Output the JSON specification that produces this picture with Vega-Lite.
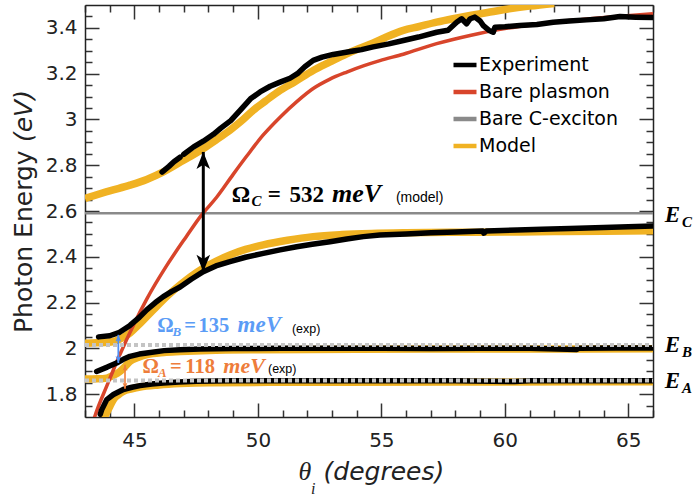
{
  "$schema": "https://vega.github.io/schema/vega-lite/v6.json",
  "width": 568,
  "height": 412,
  "autosize": {"type": "none"},
  "padding": {"left": 85, "top": 5, "right": 40, "bottom": 82},
  "background": "#ffffff",
  "config": {"view": {"stroke": null}, "font": "DejaVu Sans"},
  "datasets": {
    "curves": [
      {"series": "Bare C-exciton", "branch": "EC", "theta": 43, "energy": 2.59},
      {"series": "Bare C-exciton", "branch": "EC", "theta": 66, "energy": 2.59},

      {"series": "Model", "branch": "M1", "theta": 43.0, "energy": 2.655},
      {"series": "Model", "branch": "M1", "theta": 44.0, "energy": 2.688},
      {"series": "Model", "branch": "M1", "theta": 44.82, "energy": 2.713},
      {"series": "Model", "branch": "M1", "theta": 45.5, "energy": 2.738},
      {"series": "Model", "branch": "M1", "theta": 46.17, "energy": 2.771},
      {"series": "Model", "branch": "M1", "theta": 46.8, "energy": 2.81},
      {"series": "Model", "branch": "M1", "theta": 47.3, "energy": 2.84},
      {"series": "Model", "branch": "M1", "theta": 47.79, "energy": 2.873},
      {"series": "Model", "branch": "M1", "theta": 48.3, "energy": 2.91},
      {"series": "Model", "branch": "M1", "theta": 48.87, "energy": 2.953},
      {"series": "Model", "branch": "M1", "theta": 49.3, "energy": 2.99},
      {"series": "Model", "branch": "M1", "theta": 49.81, "energy": 3.04},
      {"series": "Model", "branch": "M1", "theta": 50.3, "energy": 3.08},
      {"series": "Model", "branch": "M1", "theta": 50.9, "energy": 3.127},
      {"series": "Model", "branch": "M1", "theta": 51.5, "energy": 3.165},
      {"series": "Model", "branch": "M1", "theta": 52.24, "energy": 3.214},
      {"series": "Model", "branch": "M1", "theta": 52.9, "energy": 3.25},
      {"series": "Model", "branch": "M1", "theta": 53.6, "energy": 3.287},
      {"series": "Model", "branch": "M1", "theta": 54.1, "energy": 3.31},
      {"series": "Model", "branch": "M1", "theta": 54.67, "energy": 3.334},
      {"series": "Model", "branch": "M1", "theta": 55.2, "energy": 3.36},
      {"series": "Model", "branch": "M1", "theta": 55.89, "energy": 3.389},
      {"series": "Model", "branch": "M1", "theta": 56.5, "energy": 3.405},
      {"series": "Model", "branch": "M1", "theta": 57.24, "energy": 3.425},
      {"series": "Model", "branch": "M1", "theta": 57.9, "energy": 3.44},
      {"series": "Model", "branch": "M1", "theta": 58.59, "energy": 3.454},
      {"series": "Model", "branch": "M1", "theta": 59.3, "energy": 3.467},
      {"series": "Model", "branch": "M1", "theta": 59.94, "energy": 3.479},
      {"series": "Model", "branch": "M1", "theta": 61.0, "energy": 3.495},
      {"series": "Model", "branch": "M1", "theta": 62.0, "energy": 3.507},

      {"series": "Model", "branch": "M2", "theta": 43.0, "energy": 2.022},
      {"series": "Model", "branch": "M2", "theta": 43.5, "energy": 2.024},
      {"series": "Model", "branch": "M2", "theta": 44.15, "energy": 2.03},
      {"series": "Model", "branch": "M2", "theta": 44.5, "energy": 2.045},
      {"series": "Model", "branch": "M2", "theta": 44.82, "energy": 2.067},
      {"series": "Model", "branch": "M2", "theta": 45.15, "energy": 2.1},
      {"series": "Model", "branch": "M2", "theta": 45.5, "energy": 2.139},
      {"series": "Model", "branch": "M2", "theta": 45.85, "energy": 2.177},
      {"series": "Model", "branch": "M2", "theta": 46.17, "energy": 2.212},
      {"series": "Model", "branch": "M2", "theta": 46.5, "energy": 2.245},
      {"series": "Model", "branch": "M2", "theta": 46.85, "energy": 2.277},
      {"series": "Model", "branch": "M2", "theta": 47.3, "energy": 2.315},
      {"series": "Model", "branch": "M2", "theta": 47.79, "energy": 2.35},
      {"series": "Model", "branch": "M2", "theta": 48.3, "energy": 2.38},
      {"series": "Model", "branch": "M2", "theta": 48.87, "energy": 2.408},
      {"series": "Model", "branch": "M2", "theta": 49.5, "energy": 2.432},
      {"series": "Model", "branch": "M2", "theta": 50.22, "energy": 2.452},
      {"series": "Model", "branch": "M2", "theta": 51.2, "energy": 2.472},
      {"series": "Model", "branch": "M2", "theta": 52.24, "energy": 2.488},
      {"series": "Model", "branch": "M2", "theta": 53.4, "energy": 2.497},
      {"series": "Model", "branch": "M2", "theta": 54.6, "energy": 2.502},
      {"series": "Model", "branch": "M2", "theta": 56.0, "energy": 2.505},
      {"series": "Model", "branch": "M2", "theta": 58.0, "energy": 2.507},
      {"series": "Model", "branch": "M2", "theta": 60.0, "energy": 2.508},
      {"series": "Model", "branch": "M2", "theta": 62.0, "energy": 2.51},
      {"series": "Model", "branch": "M2", "theta": 64.0, "energy": 2.512},
      {"series": "Model", "branch": "M2", "theta": 66.0, "energy": 2.514},

      {"series": "Model", "branch": "M3", "theta": 43.0, "energy": 1.866},
      {"series": "Model", "branch": "M3", "theta": 43.5, "energy": 1.867},
      {"series": "Model", "branch": "M3", "theta": 43.88, "energy": 1.87},
      {"series": "Model", "branch": "M3", "theta": 44.15, "energy": 1.882},
      {"series": "Model", "branch": "M3", "theta": 44.42, "energy": 1.899},
      {"series": "Model", "branch": "M3", "theta": 44.62, "energy": 1.92},
      {"series": "Model", "branch": "M3", "theta": 44.82, "energy": 1.943},
      {"series": "Model", "branch": "M3", "theta": 45.15, "energy": 1.96},
      {"series": "Model", "branch": "M3", "theta": 45.5, "energy": 1.972},
      {"series": "Model", "branch": "M3", "theta": 46.2, "energy": 1.982},
      {"series": "Model", "branch": "M3", "theta": 46.85, "energy": 1.986},
      {"series": "Model", "branch": "M3", "theta": 48.0, "energy": 1.991},
      {"series": "Model", "branch": "M3", "theta": 50.0, "energy": 1.994},
      {"series": "Model", "branch": "M3", "theta": 54.0, "energy": 1.996},
      {"series": "Model", "branch": "M3", "theta": 60.0, "energy": 1.997},
      {"series": "Model", "branch": "M3", "theta": 66.0, "energy": 1.998},

      {"series": "Model", "branch": "M4", "theta": 43.7, "energy": 1.67},
      {"series": "Model", "branch": "M4", "theta": 43.81, "energy": 1.703},
      {"series": "Model", "branch": "M4", "theta": 44.0, "energy": 1.745},
      {"series": "Model", "branch": "M4", "theta": 44.15, "energy": 1.776},
      {"series": "Model", "branch": "M4", "theta": 44.35, "energy": 1.797},
      {"series": "Model", "branch": "M4", "theta": 44.55, "energy": 1.812},
      {"series": "Model", "branch": "M4", "theta": 44.9, "energy": 1.823},
      {"series": "Model", "branch": "M4", "theta": 45.23, "energy": 1.831},
      {"series": "Model", "branch": "M4", "theta": 46.0, "energy": 1.84},
      {"series": "Model", "branch": "M4", "theta": 46.85, "energy": 1.846},
      {"series": "Model", "branch": "M4", "theta": 48.0, "energy": 1.85},
      {"series": "Model", "branch": "M4", "theta": 52.0, "energy": 1.852},
      {"series": "Model", "branch": "M4", "theta": 58.0, "energy": 1.853},
      {"series": "Model", "branch": "M4", "theta": 66.0, "energy": 1.854},

      {"series": "Bare plasmon", "branch": "P", "theta": 43.25, "energy": 1.65},
      {"series": "Bare plasmon", "branch": "P", "theta": 43.4, "energy": 1.703},
      {"series": "Bare plasmon", "branch": "P", "theta": 43.9, "energy": 1.84},
      {"series": "Bare plasmon", "branch": "P", "theta": 44.4, "energy": 1.97},
      {"series": "Bare plasmon", "branch": "P", "theta": 45.0, "energy": 2.11},
      {"series": "Bare plasmon", "branch": "P", "theta": 45.5, "energy": 2.215},
      {"series": "Bare plasmon", "branch": "P", "theta": 46.3, "energy": 2.36},
      {"series": "Bare plasmon", "branch": "P", "theta": 47.1, "energy": 2.488},
      {"series": "Bare plasmon", "branch": "P", "theta": 47.7, "energy": 2.58},
      {"series": "Bare plasmon", "branch": "P", "theta": 48.33, "energy": 2.66},
      {"series": "Bare plasmon", "branch": "P", "theta": 49.0, "energy": 2.76},
      {"series": "Bare plasmon", "branch": "P", "theta": 49.55, "energy": 2.84},
      {"series": "Bare plasmon", "branch": "P", "theta": 50.2, "energy": 2.93},
      {"series": "Bare plasmon", "branch": "P", "theta": 50.9, "energy": 3.01},
      {"series": "Bare plasmon", "branch": "P", "theta": 51.6, "energy": 3.08},
      {"series": "Bare plasmon", "branch": "P", "theta": 52.24, "energy": 3.135},
      {"series": "Bare plasmon", "branch": "P", "theta": 52.9, "energy": 3.175},
      {"series": "Bare plasmon", "branch": "P", "theta": 53.6, "energy": 3.207},
      {"series": "Bare plasmon", "branch": "P", "theta": 54.3, "energy": 3.235},
      {"series": "Bare plasmon", "branch": "P", "theta": 54.94, "energy": 3.257},
      {"series": "Bare plasmon", "branch": "P", "theta": 55.89, "energy": 3.285},
      {"series": "Bare plasmon", "branch": "P", "theta": 57.24, "energy": 3.331},
      {"series": "Bare plasmon", "branch": "P", "theta": 58.59, "energy": 3.367},
      {"series": "Bare plasmon", "branch": "P", "theta": 59.94, "energy": 3.396},
      {"series": "Bare plasmon", "branch": "P", "theta": 61.3, "energy": 3.416},
      {"series": "Bare plasmon", "branch": "P", "theta": 62.64, "energy": 3.432},
      {"series": "Bare plasmon", "branch": "P", "theta": 64.3, "energy": 3.448},
      {"series": "Bare plasmon", "branch": "P", "theta": 66.0, "energy": 3.462},

      {"series": "Experiment", "branch": "X1a", "theta": 46.12, "energy": 2.77},
      {"series": "Experiment", "branch": "X1a", "theta": 46.4, "energy": 2.795},
      {"series": "Experiment", "branch": "X1a", "theta": 46.6, "energy": 2.815},
      {"series": "Experiment", "branch": "X1a", "theta": 46.85, "energy": 2.835},
      {"series": "Experiment", "branch": "X1b", "theta": 47.0, "energy": 2.848},
      {"series": "Experiment", "branch": "X1b", "theta": 47.4, "energy": 2.88},
      {"series": "Experiment", "branch": "X1b", "theta": 47.79, "energy": 2.905},
      {"series": "Experiment", "branch": "X1b", "theta": 48.2, "energy": 2.935},
      {"series": "Experiment", "branch": "X1b", "theta": 48.5, "energy": 2.962},
      {"series": "Experiment", "branch": "X1b", "theta": 48.9, "energy": 2.995},
      {"series": "Experiment", "branch": "X1b", "theta": 49.28, "energy": 3.04},
      {"series": "Experiment", "branch": "X1b", "theta": 49.7, "energy": 3.09},
      {"series": "Experiment", "branch": "X1b", "theta": 50.09, "energy": 3.12},
      {"series": "Experiment", "branch": "X1b", "theta": 50.5, "energy": 3.145},
      {"series": "Experiment", "branch": "X1b", "theta": 50.9, "energy": 3.163},
      {"series": "Experiment", "branch": "X1b", "theta": 51.3, "energy": 3.18},
      {"series": "Experiment", "branch": "X1b", "theta": 51.6, "energy": 3.2},
      {"series": "Experiment", "branch": "X1b", "theta": 51.9, "energy": 3.23},
      {"series": "Experiment", "branch": "X1b", "theta": 52.24, "energy": 3.258},
      {"series": "Experiment", "branch": "X1b", "theta": 52.6, "energy": 3.272},
      {"series": "Experiment", "branch": "X1b", "theta": 53.05, "energy": 3.284},
      {"series": "Experiment", "branch": "X1b", "theta": 53.4, "energy": 3.29},
      {"series": "Experiment", "branch": "X1b", "theta": 53.86, "energy": 3.299},
      {"series": "Experiment", "branch": "X1b", "theta": 54.2, "energy": 3.305},
      {"series": "Experiment", "branch": "X1b", "theta": 54.67, "energy": 3.317},
      {"series": "Experiment", "branch": "X1b", "theta": 55.3, "energy": 3.33},
      {"series": "Experiment", "branch": "X1b", "theta": 55.89, "energy": 3.345},
      {"series": "Experiment", "branch": "X1b", "theta": 56.5, "energy": 3.36},
      {"series": "Experiment", "branch": "X1b", "theta": 57.24, "energy": 3.381},
      {"series": "Experiment", "branch": "X1b", "theta": 57.7, "energy": 3.39},
      {"series": "Experiment", "branch": "X1b", "theta": 58.05, "energy": 3.425},
      {"series": "Experiment", "branch": "X1b", "theta": 58.25, "energy": 3.44},
      {"series": "Experiment", "branch": "X1b", "theta": 58.45, "energy": 3.418},
      {"series": "Experiment", "branch": "X1b", "theta": 58.6, "energy": 3.44},
      {"series": "Experiment", "branch": "X1b", "theta": 58.79, "energy": 3.447},
      {"series": "Experiment", "branch": "X1b", "theta": 59.0, "energy": 3.43},
      {"series": "Experiment", "branch": "X1b", "theta": 59.13, "energy": 3.41},
      {"series": "Experiment", "branch": "X1b", "theta": 59.35, "energy": 3.39},
      {"series": "Experiment", "branch": "X1b", "theta": 59.53, "energy": 3.381},
      {"series": "Experiment", "branch": "X1b", "theta": 59.6, "energy": 3.403},
      {"series": "Experiment", "branch": "X1b", "theta": 60.0, "energy": 3.405},
      {"series": "Experiment", "branch": "X1b", "theta": 60.61, "energy": 3.41},
      {"series": "Experiment", "branch": "X1b", "theta": 61.3, "energy": 3.415},
      {"series": "Experiment", "branch": "X1b", "theta": 61.96, "energy": 3.425},
      {"series": "Experiment", "branch": "X1b", "theta": 62.6, "energy": 3.43},
      {"series": "Experiment", "branch": "X1b", "theta": 63.31, "energy": 3.435},
      {"series": "Experiment", "branch": "X1b", "theta": 64.0, "energy": 3.44},
      {"series": "Experiment", "branch": "X1b", "theta": 64.66, "energy": 3.45},
      {"series": "Experiment", "branch": "X1b", "theta": 65.3, "energy": 3.447},
      {"series": "Experiment", "branch": "X1b", "theta": 66.0, "energy": 3.445},

      {"series": "Experiment", "branch": "X2", "theta": 43.55, "energy": 2.05},
      {"series": "Experiment", "branch": "X2", "theta": 44.0, "energy": 2.055},
      {"series": "Experiment", "branch": "X2", "theta": 44.4, "energy": 2.07},
      {"series": "Experiment", "branch": "X2", "theta": 44.82, "energy": 2.1},
      {"series": "Experiment", "branch": "X2", "theta": 45.2, "energy": 2.135},
      {"series": "Experiment", "branch": "X2", "theta": 45.5, "energy": 2.168},
      {"series": "Experiment", "branch": "X2", "theta": 45.85, "energy": 2.2},
      {"series": "Experiment", "branch": "X2", "theta": 46.17, "energy": 2.226},
      {"series": "Experiment", "branch": "X2", "theta": 46.5, "energy": 2.248},
      {"series": "Experiment", "branch": "X2", "theta": 46.85, "energy": 2.268},
      {"series": "Experiment", "branch": "X2", "theta": 47.3, "energy": 2.302},
      {"series": "Experiment", "branch": "X2", "theta": 47.79, "energy": 2.335},
      {"series": "Experiment", "branch": "X2", "theta": 48.3, "energy": 2.36},
      {"series": "Experiment", "branch": "X2", "theta": 48.87, "energy": 2.379},
      {"series": "Experiment", "branch": "X2", "theta": 49.5, "energy": 2.398},
      {"series": "Experiment", "branch": "X2", "theta": 50.22, "energy": 2.415},
      {"series": "Experiment", "branch": "X2", "theta": 50.9, "energy": 2.43},
      {"series": "Experiment", "branch": "X2", "theta": 51.57, "energy": 2.444},
      {"series": "Experiment", "branch": "X2", "theta": 52.2, "energy": 2.455},
      {"series": "Experiment", "branch": "X2", "theta": 52.92, "energy": 2.466},
      {"series": "Experiment", "branch": "X2", "theta": 53.6, "energy": 2.478},
      {"series": "Experiment", "branch": "X2", "theta": 54.27, "energy": 2.488},
      {"series": "Experiment", "branch": "X2", "theta": 54.94, "energy": 2.495},
      {"series": "Experiment", "branch": "X2", "theta": 56.0, "energy": 2.5},
      {"series": "Experiment", "branch": "X2", "theta": 57.0, "energy": 2.505},
      {"series": "Experiment", "branch": "X2", "theta": 58.0, "energy": 2.508},
      {"series": "Experiment", "branch": "X2", "theta": 59.1, "energy": 2.513},
      {"series": "Experiment", "branch": "X2", "theta": 59.15, "energy": 2.503},
      {"series": "Experiment", "branch": "X2", "theta": 59.25, "energy": 2.513},
      {"series": "Experiment", "branch": "X2", "theta": 60.5, "energy": 2.517},
      {"series": "Experiment", "branch": "X2", "theta": 61.5, "energy": 2.52},
      {"series": "Experiment", "branch": "X2", "theta": 62.64, "energy": 2.524},
      {"series": "Experiment", "branch": "X2", "theta": 64.0, "energy": 2.528},
      {"series": "Experiment", "branch": "X2", "theta": 65.0, "energy": 2.531},
      {"series": "Experiment", "branch": "X2", "theta": 66.0, "energy": 2.534},

      {"series": "Experiment", "branch": "X3", "theta": 43.47, "energy": 1.899},
      {"series": "Experiment", "branch": "X3", "theta": 43.9, "energy": 1.918},
      {"series": "Experiment", "branch": "X3", "theta": 44.28, "energy": 1.936},
      {"series": "Experiment", "branch": "X3", "theta": 44.55, "energy": 1.952},
      {"series": "Experiment", "branch": "X3", "theta": 44.82, "energy": 1.965},
      {"series": "Experiment", "branch": "X3", "theta": 45.2, "energy": 1.975},
      {"series": "Experiment", "branch": "X3", "theta": 45.5, "energy": 1.98},
      {"series": "Experiment", "branch": "X3", "theta": 46.2, "energy": 1.99},
      {"series": "Experiment", "branch": "X3", "theta": 46.85, "energy": 1.994},
      {"series": "Experiment", "branch": "X3", "theta": 47.66, "energy": 1.997},
      {"series": "Experiment", "branch": "X3", "theta": 49.0, "energy": 1.999},
      {"series": "Experiment", "branch": "X3", "theta": 51.0, "energy": 2.0},
      {"series": "Experiment", "branch": "X3", "theta": 53.0, "energy": 2.0},
      {"series": "Experiment", "branch": "X3", "theta": 55.0, "energy": 2.0},
      {"series": "Experiment", "branch": "X3", "theta": 57.0, "energy": 1.999},
      {"series": "Experiment", "branch": "X3", "theta": 59.0, "energy": 2.0},
      {"series": "Experiment", "branch": "X3", "theta": 61.0, "energy": 2.0},
      {"series": "Experiment", "branch": "X3", "theta": 62.9, "energy": 1.995},
      {"series": "Experiment", "branch": "X3", "theta": 63.0, "energy": 2.0},
      {"series": "Experiment", "branch": "X3", "theta": 64.5, "energy": 2.001},
      {"series": "Experiment", "branch": "X3", "theta": 66.0, "energy": 2.002},

      {"series": "Experiment", "branch": "X4", "theta": 43.62, "energy": 1.712},
      {"series": "Experiment", "branch": "X4", "theta": 43.67, "energy": 1.73},
      {"series": "Experiment", "branch": "X4", "theta": 43.88, "energy": 1.776},
      {"series": "Experiment", "branch": "X4", "theta": 44.15, "energy": 1.798},
      {"series": "Experiment", "branch": "X4", "theta": 44.55, "energy": 1.82},
      {"series": "Experiment", "branch": "X4", "theta": 44.9, "energy": 1.83},
      {"series": "Experiment", "branch": "X4", "theta": 45.23, "energy": 1.837},
      {"series": "Experiment", "branch": "X4", "theta": 45.7, "energy": 1.844},
      {"series": "Experiment", "branch": "X4", "theta": 46.17, "energy": 1.849},
      {"series": "Experiment", "branch": "X4", "theta": 46.8, "energy": 1.853},
      {"series": "Experiment", "branch": "X4", "theta": 47.52, "energy": 1.856},
      {"series": "Experiment", "branch": "X4", "theta": 49.0, "energy": 1.858},
      {"series": "Experiment", "branch": "X4", "theta": 52.0, "energy": 1.858},
      {"series": "Experiment", "branch": "X4", "theta": 55.0, "energy": 1.858},
      {"series": "Experiment", "branch": "X4", "theta": 58.0, "energy": 1.858},
      {"series": "Experiment", "branch": "X4", "theta": 60.4, "energy": 1.855},
      {"series": "Experiment", "branch": "X4", "theta": 61.0, "energy": 1.858},
      {"series": "Experiment", "branch": "X4", "theta": 63.0, "energy": 1.858},
      {"series": "Experiment", "branch": "X4", "theta": 66.0, "energy": 1.858}
    ],
    "levels": [
      {"level": "E_B", "theta": 43, "energy": 2.015},
      {"level": "E_B", "theta": 66, "energy": 2.015},
      {"level": "E_A", "theta": 43, "energy": 1.86},
      {"level": "E_A", "theta": 66, "energy": 1.86}
    ],
    "splittings": [
      {"name": "C", "theta": 47.79, "lo": 2.335, "hi": 2.858},
      {"name": "B", "theta": 44.35, "lo": 1.936, "hi": 2.059},
      {"name": "A", "theta": 44.62, "lo": 1.823, "hi": 1.928}
    ]
  },
  "layer": [
    {
      "data": {"name": "curves"},
      "transform": [{"filter": "datum.series === 'Bare C-exciton'"}],
      "mark": {"type": "line", "strokeWidth": 2.5, "clip": true},
      "encoding": {
        "x": {"field": "theta", "type": "quantitative",
          "scale": {"domain": [43, 66], "nice": false, "zero": false},
          "axis": {"orient": "bottom", "title": null, "grid": false,
            "values": [43,44,45,46,47,48,49,50,51,52,53,54,55,56,57,58,59,60,61,62,63,64,65,66],
            "labelExpr": "datum.value % 5 === 0 ? datum.label : ''",
            "tickSize": {"condition": {"test": "datum.value % 5 === 0", "value": -14}, "value": -7},
            "labelPadding": 27, "labelFont": "DejaVu Sans", "labelFontSize": 20, "labelColor": "#222222",
            "domainColor": "#222222", "domainWidth": 1.5, "tickColor": "#333333", "tickWidth": 1.5,
            "labelOverlap": false, "labelFlush": false}},
        "y": {"field": "energy", "type": "quantitative",
          "scale": {"domain": [1.7, 3.5], "nice": false, "zero": false},
          "axis": {"orient": "left", "title": null, "grid": false,
            "values": [1.75,1.8,1.85,1.9,1.95,2.0,2.05,2.1,2.15,2.2,2.25,2.3,2.35,2.4,2.45,2.5,2.55,2.6,2.65,2.7,2.75,2.8,2.85,2.9,2.95,3.0,3.05,3.1,3.15,3.2,3.25,3.3,3.35,3.4,3.45],
            "labelExpr": "abs(datum.value * 5 - round(datum.value * 5)) < 0.001 ? format(datum.value, '~g') : ''",
            "tickSize": {"condition": {"test": "abs(datum.value * 5 - round(datum.value * 5)) < 0.001", "value": -14}, "value": -7},
            "labelPadding": 22, "labelFont": "DejaVu Sans", "labelFontSize": 20, "labelColor": "#222222",
            "domainColor": "#222222", "domainWidth": 1.5, "tickColor": "#333333", "tickWidth": 1.5,
            "labelOverlap": false, "labelFlush": false}},
        "detail": {"field": "branch"},
        "color": {"field": "series", "type": "nominal",
          "scale": {"domain": ["Experiment", "Bare plasmon", "Bare C-exciton", "Model"], "range": ["#000000", "#d8452b", "#8a8a8a", "#f0b223"]},
          "legend": {"title": null, "orient": "none", "legendX": 366, "legendY": 46, "padding": 0,
            "symbolType": "stroke", "symbolSize": 529, "symbolStrokeWidth": 4.5,
            "labelFont": "DejaVu Sans", "labelFontSize": 19, "labelColor": "#000000", "labelOffset": 0,
            "rowPadding": 3, "labelLimit": 300}}
      }
    },
    {
      "data": {"name": "curves"},
      "transform": [{"filter": "datum.series === 'Model'"}],
      "mark": {"type": "line", "strokeWidth": 7.5, "interpolate": "monotone", "clip": true},
      "encoding": {
        "x": {"field": "theta", "type": "quantitative", "scale": {"domain": [43, 66], "nice": false, "zero": false}, "axis": null},
        "y": {"field": "energy", "type": "quantitative", "scale": {"domain": [1.7, 3.5], "nice": false, "zero": false}, "axis": null},
        "detail": {"field": "branch"},
        "color": {"field": "series", "type": "nominal",
          "scale": {"domain": ["Experiment", "Bare plasmon", "Bare C-exciton", "Model"], "range": ["#000000", "#d8452b", "#8a8a8a", "#f0b223"]}}
      }
    },
    {
      "data": {"name": "curves"},
      "transform": [{"filter": "datum.series === 'Bare plasmon'"}],
      "mark": {"type": "line", "strokeWidth": 3.5, "interpolate": "monotone", "clip": true},
      "encoding": {
        "x": {"field": "theta", "type": "quantitative", "scale": {"domain": [43, 66], "nice": false, "zero": false}, "axis": null},
        "y": {"field": "energy", "type": "quantitative", "scale": {"domain": [1.7, 3.5], "nice": false, "zero": false}, "axis": null},
        "detail": {"field": "branch"},
        "color": {"field": "series", "type": "nominal",
          "scale": {"domain": ["Experiment", "Bare plasmon", "Bare C-exciton", "Model"], "range": ["#000000", "#d8452b", "#8a8a8a", "#f0b223"]}}
      }
    },
    {
      "data": {"name": "curves"},
      "transform": [{"filter": "datum.series === 'Experiment'"}],
      "mark": {"type": "line", "strokeWidth": 5.5, "strokeCap": "round", "strokeJoin": "round", "clip": true},
      "encoding": {
        "x": {"field": "theta", "type": "quantitative", "scale": {"domain": [43, 66], "nice": false, "zero": false}, "axis": null},
        "y": {"field": "energy", "type": "quantitative", "scale": {"domain": [1.7, 3.5], "nice": false, "zero": false}, "axis": null},
        "detail": {"field": "branch"},
        "color": {"field": "series", "type": "nominal",
          "scale": {"domain": ["Experiment", "Bare plasmon", "Bare C-exciton", "Model"], "range": ["#000000", "#d8452b", "#8a8a8a", "#f0b223"]}}
      }
    },
    {
      "data": {"name": "levels"},
      "mark": {"type": "line", "color": "#c4c4c4", "strokeWidth": 4, "strokeDash": [4, 3], "clip": true},
      "encoding": {
        "x": {"field": "theta", "type": "quantitative",
          "scale": {"domain": [43, 66], "nice": false, "zero": false},
          "axis": {"orient": "top", "title": null, "grid": false, "labels": false,
            "values": [43,44,45,46,47,48,49,50,51,52,53,54,55,56,57,58,59,60,61,62,63,64,65,66],
            "tickSize": {"condition": {"test": "datum.value % 5 === 0", "value": -14}, "value": -7},
            "domainColor": "#222222", "domainWidth": 1.5, "tickColor": "#333333", "tickWidth": 1.5}},
        "y": {"field": "energy", "type": "quantitative",
          "scale": {"domain": [1.7, 3.5], "nice": false, "zero": false},
          "axis": {"orient": "right", "title": null, "grid": false, "labels": false,
            "values": [1.75,1.8,1.85,1.9,1.95,2.0,2.05,2.1,2.15,2.2,2.25,2.3,2.35,2.4,2.45,2.5,2.55,2.6,2.65,2.7,2.75,2.8,2.85,2.9,2.95,3.0,3.05,3.1,3.15,3.2,3.25,3.3,3.35,3.4,3.45],
            "tickSize": {"condition": {"test": "abs(datum.value * 5 - round(datum.value * 5)) < 0.001", "value": -14}, "value": -7},
            "domainColor": "#222222", "domainWidth": 1.5, "tickColor": "#333333", "tickWidth": 1.5}},
        "detail": {"field": "level"}
      }
    },
    {
      "data": {"name": "splittings"},
      "transform": [{"filter": "datum.name === 'C'"}],
      "layer": [
        {"mark": {"type": "rule", "color": "#000000", "strokeWidth": 3},
         "encoding": {"x": {"field": "theta", "type": "quantitative", "axis": null}, "y": {"field": "lo", "type": "quantitative", "axis": null}, "y2": {"field": "hi"}}},
        {"mark": {"type": "point", "filled": true, "color": "#000000", "opacity": 1, "size": 1156, "shape": "M0,0L0.4,1L0,0.75L-0.4,1Z"},
         "encoding": {"x": {"field": "theta", "type": "quantitative", "axis": null}, "y": {"field": "hi", "type": "quantitative", "axis": null}}},
        {"mark": {"type": "point", "filled": true, "color": "#000000", "opacity": 1, "size": 1156, "shape": "M0,0L0.4,-1L0,-0.75L-0.4,-1Z"},
         "encoding": {"x": {"field": "theta", "type": "quantitative", "axis": null}, "y": {"field": "lo", "type": "quantitative", "axis": null}}}
      ]
    },
    {
      "data": {"name": "splittings"},
      "transform": [{"filter": "datum.name === 'B'"}],
      "layer": [
        {"mark": {"type": "rule", "color": "#4f8ff5", "strokeWidth": 1.8},
         "encoding": {"x": {"field": "theta", "type": "quantitative", "axis": null}, "y": {"field": "lo", "type": "quantitative", "axis": null}, "y2": {"field": "hi"}}},
        {"mark": {"type": "point", "filled": true, "color": "#4f8ff5", "opacity": 1, "size": 196, "shape": "M0,0L0.4,1L0,0.75L-0.4,1Z"},
         "encoding": {"x": {"field": "theta", "type": "quantitative", "axis": null}, "y": {"field": "hi", "type": "quantitative", "axis": null}}},
        {"mark": {"type": "point", "filled": true, "color": "#4f8ff5", "opacity": 1, "size": 196, "shape": "M0,0L0.4,-1L0,-0.75L-0.4,-1Z"},
         "encoding": {"x": {"field": "theta", "type": "quantitative", "axis": null}, "y": {"field": "lo", "type": "quantitative", "axis": null}}}
      ]
    },
    {
      "data": {"name": "splittings"},
      "transform": [{"filter": "datum.name === 'A'"}],
      "layer": [
        {"mark": {"type": "rule", "color": "#ee7d3b", "strokeWidth": 1.6},
         "encoding": {"x": {"field": "theta", "type": "quantitative", "axis": null}, "y": {"field": "lo", "type": "quantitative", "axis": null}, "y2": {"field": "hi"}}},
        {"mark": {"type": "point", "filled": true, "color": "#ee7d3b", "opacity": 1, "size": 144, "shape": "M0,0L0.4,1L0,0.75L-0.4,1Z"},
         "encoding": {"x": {"field": "theta", "type": "quantitative", "axis": null}, "y": {"field": "hi", "type": "quantitative", "axis": null}}},
        {"mark": {"type": "point", "filled": true, "color": "#ee7d3b", "opacity": 1, "size": 144, "shape": "M0,0L0.4,-1L0,-0.75L-0.4,-1Z"},
         "encoding": {"x": {"field": "theta", "type": "quantitative", "axis": null}, "y": {"field": "lo", "type": "quantitative", "axis": null}}}
      ]
    },
    {
      "data": {"values": [
        {"text": "Ω", "theta": 48.94, "energy": 2.641},
        {"text": "=", "theta": 50.4, "energy": 2.641},
        {"text": "532", "theta": 51.28, "energy": 2.641}
      ]},
      "mark": {"type": "text", "font": "Liberation Serif", "fontWeight": "bold", "fontSize": 23, "align": "left", "baseline": "alphabetic", "color": "#000000"},
      "encoding": {"x": {"field": "theta", "type": "quantitative", "axis": null}, "y": {"field": "energy", "type": "quantitative", "axis": null}, "text": {"field": "text"}}
    },
    {
      "data": {"values": [
        {"text": "meV", "theta": 53.0, "energy": 2.641}
      ]},
      "mark": {"type": "text", "font": "Liberation Serif", "fontWeight": "bold", "fontStyle": "italic", "fontSize": 26, "align": "left", "baseline": "alphabetic", "color": "#000000"},
      "encoding": {"x": {"field": "theta", "type": "quantitative", "axis": null}, "y": {"field": "energy", "type": "quantitative", "axis": null}, "text": {"field": "text"}}
    },
    {
      "data": {"values": [
        {"text": "E", "theta": 66.48, "energy": 2.551},
        {"text": "E", "theta": 66.48, "energy": 1.985},
        {"text": "E", "theta": 66.48, "energy": 1.825}
      ]},
      "mark": {"type": "text", "font": "Liberation Serif", "fontWeight": "bold", "fontStyle": "italic", "fontSize": 23, "align": "left", "baseline": "alphabetic", "color": "#000000"},
      "encoding": {"x": {"field": "theta", "type": "quantitative", "axis": null}, "y": {"field": "energy", "type": "quantitative", "axis": null}, "text": {"field": "text"}}
    },
    {
      "data": {"values": [
        {"text": "C", "theta": 49.74, "energy": 2.622},
        {"text": "C", "theta": 67.17, "energy": 2.531},
        {"text": "B", "theta": 67.17, "energy": 1.962},
        {"text": "A", "theta": 67.17, "energy": 1.805}
      ]},
      "mark": {"type": "text", "font": "Liberation Serif", "fontWeight": "bold", "fontStyle": "italic", "fontSize": 15, "align": "left", "baseline": "alphabetic", "color": "#000000"},
      "encoding": {"x": {"field": "theta", "type": "quantitative", "axis": null}, "y": {"field": "energy", "type": "quantitative", "axis": null}, "text": {"field": "text"}}
    },
    {
      "data": {"values": [
        {"text": "(model)", "theta": 55.59, "energy": 2.641}
      ]},
      "mark": {"type": "text", "font": "Liberation Sans", "fontSize": 14, "align": "left", "baseline": "alphabetic", "color": "#000000"},
      "encoding": {"x": {"field": "theta", "type": "quantitative", "axis": null}, "y": {"field": "energy", "type": "quantitative", "axis": null}, "text": {"field": "text"}}
    },
    {
      "data": {"values": [
        {"text": "(exp)", "theta": 51.38, "energy": 2.066},
        {"text": "(exp)", "theta": 50.41, "energy": 1.894}
      ]},
      "mark": {"type": "text", "font": "Liberation Sans", "fontSize": 12.5, "align": "left", "baseline": "alphabetic", "color": "#000000"},
      "encoding": {"x": {"field": "theta", "type": "quantitative", "axis": null}, "y": {"field": "energy", "type": "quantitative", "axis": null}, "text": {"field": "text"}}
    },
    {
      "data": {"values": [
        {"text": "Ω", "theta": 45.93, "energy": 2.073},
        {"text": "=", "theta": 47.02, "energy": 2.073},
        {"text": "135", "theta": 47.6, "energy": 2.073}
      ]},
      "mark": {"type": "text", "font": "Liberation Serif", "fontWeight": "bold", "fontSize": 20.5, "align": "left", "baseline": "alphabetic", "color": "#5b9cf6"},
      "encoding": {"x": {"field": "theta", "type": "quantitative", "axis": null}, "y": {"field": "energy", "type": "quantitative", "axis": null}, "text": {"field": "text"}}
    },
    {
      "data": {"values": [
        {"text": "meV", "theta": 49.18, "energy": 2.073}
      ]},
      "mark": {"type": "text", "font": "Liberation Serif", "fontWeight": "bold", "fontStyle": "italic", "fontSize": 23, "align": "left", "baseline": "alphabetic", "color": "#5b9cf6"},
      "encoding": {"x": {"field": "theta", "type": "quantitative", "axis": null}, "y": {"field": "energy", "type": "quantitative", "axis": null}, "text": {"field": "text"}}
    },
    {
      "data": {"values": [
        {"text": "B", "theta": 46.54, "energy": 2.054}
      ]},
      "mark": {"type": "text", "font": "Liberation Serif", "fontWeight": "bold", "fontStyle": "italic", "fontSize": 13, "align": "left", "baseline": "alphabetic", "color": "#5b9cf6"},
      "encoding": {"x": {"field": "theta", "type": "quantitative", "axis": null}, "y": {"field": "energy", "type": "quantitative", "axis": null}, "text": {"field": "text"}}
    },
    {
      "data": {"values": [
        {"text": "Ω", "theta": 45.33, "energy": 1.894},
        {"text": "=", "theta": 46.44, "energy": 1.894},
        {"text": "118", "theta": 47.06, "energy": 1.894}
      ]},
      "mark": {"type": "text", "font": "Liberation Serif", "fontWeight": "bold", "fontSize": 20.5, "align": "left", "baseline": "alphabetic", "color": "#ee7d3b"},
      "encoding": {"x": {"field": "theta", "type": "quantitative", "axis": null}, "y": {"field": "energy", "type": "quantitative", "axis": null}, "text": {"field": "text"}}
    },
    {
      "data": {"values": [
        {"text": "meV", "theta": 48.6, "energy": 1.894}
      ]},
      "mark": {"type": "text", "font": "Liberation Serif", "fontWeight": "bold", "fontStyle": "italic", "fontSize": 22, "align": "left", "baseline": "alphabetic", "color": "#ee7d3b"},
      "encoding": {"x": {"field": "theta", "type": "quantitative", "axis": null}, "y": {"field": "energy", "type": "quantitative", "axis": null}, "text": {"field": "text"}}
    },
    {
      "data": {"values": [
        {"text": "A", "theta": 45.96, "energy": 1.874}
      ]},
      "mark": {"type": "text", "font": "Liberation Serif", "fontWeight": "bold", "fontStyle": "italic", "fontSize": 13, "align": "left", "baseline": "alphabetic", "color": "#ee7d3b"},
      "encoding": {"x": {"field": "theta", "type": "quantitative", "axis": null}, "y": {"field": "energy", "type": "quantitative", "axis": null}, "text": {"field": "text"}}
    },
    {
      "data": {"values": [
        {"text": "θ", "theta": 51.65, "energy": 1.426}
      ]},
      "mark": {"type": "text", "font": "Liberation Serif", "fontStyle": "italic", "fontSize": 26, "align": "left", "baseline": "alphabetic", "color": "#222222"},
      "encoding": {"x": {"field": "theta", "type": "quantitative", "axis": null}, "y": {"field": "energy", "type": "quantitative", "axis": null}, "text": {"field": "text"}}
    },
    {
      "data": {"values": [
        {"text": "i", "theta": 52.15, "energy": 1.362}
      ]},
      "mark": {"type": "text", "font": "Liberation Serif", "fontStyle": "italic", "fontSize": 16, "align": "left", "baseline": "alphabetic", "color": "#222222"},
      "encoding": {"x": {"field": "theta", "type": "quantitative", "axis": null}, "y": {"field": "energy", "type": "quantitative", "axis": null}, "text": {"field": "text"}}
    },
    {
      "data": {"values": [
        {"text": "(degrees)", "theta": 52.66, "energy": 1.426}
      ]},
      "mark": {"type": "text", "font": "DejaVu Sans", "fontStyle": "italic", "fontSize": 25, "align": "left", "baseline": "alphabetic", "color": "#222222"},
      "encoding": {"x": {"field": "theta", "type": "quantitative", "axis": null}, "y": {"field": "energy", "type": "quantitative", "axis": null}, "text": {"field": "text"}}
    },
    {
      "data": {"values": [
        {"text": "Photon Energy", "theta": 40.854, "energy": 2.067}
      ]},
      "mark": {"type": "text", "font": "DejaVu Sans", "fontSize": 25, "angle": 270, "align": "left", "baseline": "alphabetic", "color": "#222222"},
      "encoding": {"x": {"field": "theta", "type": "quantitative", "axis": null}, "y": {"field": "energy", "type": "quantitative", "axis": null}, "text": {"field": "text"}}
    },
    {
      "data": {"values": [
        {"text": "(eV)", "theta": 40.854, "energy": 2.901}
      ]},
      "mark": {"type": "text", "font": "DejaVu Sans", "fontStyle": "italic", "fontSize": 25, "angle": 270, "align": "left", "baseline": "alphabetic", "color": "#222222"},
      "encoding": {"x": {"field": "theta", "type": "quantitative", "axis": null}, "y": {"field": "energy", "type": "quantitative", "axis": null}, "text": {"field": "text"}}
    }
  ],
  "resolve": {"axis": {"x": "independent", "y": "independent"}}
}
